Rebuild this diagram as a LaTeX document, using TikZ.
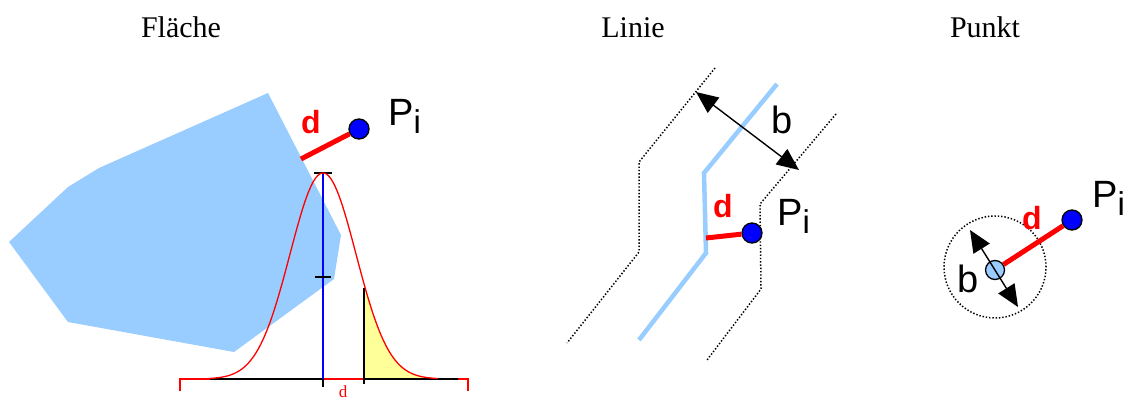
\documentclass[tikz,border=0pt]{standalone}
\usepackage{fontspec}
\setmainfont{Liberation Serif}
\newfontfamily\lsans{Liberation Sans}
\usetikzlibrary{arrows.meta}
\definecolor{areablue}{RGB}{153,204,255}
\definecolor{ptblue}{RGB}{0,0,255}
\definecolor{lightyellow}{RGB}{255,255,153}
\begin{document}
\begin{tikzpicture}[x=1pt,y=-1pt,
  title/.style={font=\fontsize{30}{30}\selectfont, anchor=base, inner sep=0pt},
  lbl/.style={font=\lsans\fontsize{38}{38}\selectfont, anchor=base west, inner sep=0pt},
  dlbl/.style={font=\lsans\bfseries\fontsize{32}{32}\selectfont, text=red, anchor=base west, inner sep=0pt},
  pnt/.style={circle, draw=black, line width=1.3pt, fill=ptblue, minimum size=20pt, inner sep=0pt},
  spnt/.style={circle, draw=black, line width=1.3pt, fill=areablue, minimum size=19pt, inner sep=0pt},
  dline/.style={red, line width=5pt},
  dotline/.style={line width=1.5pt, dash pattern=on 1.4pt off 1.9pt},
  dblarrow/.style={line width=1.4pt, {Triangle[length=22pt,width=19pt]}-{Triangle[length=22pt,width=19pt]}},
  gauss/.style={red, line width=1.3pt}
]
\useasboundingbox (0,0) rectangle (1123,401);

% titles
\node[title] (t1) at (181,38) {Fläche};
\node[title] (t2) at (633,38) {Linie};
\node[title] (t3) at (985,38) {Punkt};

% ---------- Flaeche ----------
\fill[areablue] (268,93) -- (341,235) -- (334,279) -- (234,352) -- (68,322) -- (9,242) -- (68,187) -- (99,168) -- cycle;

\fill[lightyellow] (364,379) -- plot[domain=364:438, samples=40] (\x, {379-206*exp(-0.5*((\x-323)/33)*((\x-323)/33))}) -- (438,379) -- cycle;

% axis
\draw[red, line width=1.5pt] (180,391) -- (180,379) -- (468,379) -- (468,391);
\draw[black, line width=1.3pt] (210,379) -- (323,379);
\draw[black, line width=1.3pt] (364,379) -- (458,379);
\draw[red, line width=1.5pt] (323,379) -- (364,379);
\draw[black, line width=1.3pt] (323,379) -- (323,387);
\draw[black, line width=1.3pt] (364,379) -- (364,384);
\draw[black, line width=1.3pt] (364,379) -- (364,288);
\draw[blue, line width=1.3pt] (323,173) -- (323,379);
\draw[black, line width=1.3pt] (314,173) -- (332,173);
\draw[black, line width=1.3pt] (315,277) -- (331,277);

\draw[gauss] plot[domain=208:438, samples=150, smooth] (\x, {379-206*exp(-0.5*((\x-323)/33)*((\x-323)/33))});

\node[red, font=\fontsize{17}{17}\selectfont, anchor=base, inner sep=0pt] (dsmall) at (343,397) {d};

\node[pnt] (pA) at (359,129) {};
\coordinate (eA) at (301,159);
\draw[dline] (eA) -- (pA);
\node[dlbl] (dA) at (301,133) {d};
\node[lbl] (PA) at (388,125) {P\raisebox{-8pt}{\fontsize{33}{33}\selectfont i}};

% ---------- Linie ----------
\draw[dotline] (715,68) -- (639,162) -- (639,252) -- (567,343);
\draw[dotline] (836,114) -- (760,204) -- (761,289) -- (707,360);
\draw[areablue, line width=4.5pt] (777,84) -- (704,173) -- (706,253) -- (639,340);

\coordinate (bB1) at (696,92);
\coordinate (bB2) at (799,170);
\draw[dblarrow] (bB1) -- (bB2);
\node[lbl] (bB) at (771,133) {b};

\node[pnt] (pB) at (752,233) {};
\coordinate (eB) at (706,238);
\draw[dline] (eB) -- (pB);
\node[dlbl] (dB) at (713,217) {d};
\node[lbl] (PB) at (777,225) {P\raisebox{-8pt}{\fontsize{33}{33}\selectfont i}};

% ---------- Punkt ----------
\node[circle, draw=black, dotline, minimum size=102pt, inner sep=0pt] (zone) at (995,267) {};
\node[pnt] (pC) at (1072,220) {};
\node[spnt] (sC) at (995,270) {};
\draw[dline] (sC) -- (pC);
\coordinate (bC1) at (970,230);
\coordinate (bC2) at (1018,307);
\draw[dblarrow] (bC1) -- (bC2);
\node[lbl] (bC) at (957,292) {b};
\node[dlbl] (dC) at (1022,229) {d};
\node[lbl] (PC) at (1092,207) {P\raisebox{-8pt}{\fontsize{33}{33}\selectfont i}};
\end{tikzpicture}
\end{document}
